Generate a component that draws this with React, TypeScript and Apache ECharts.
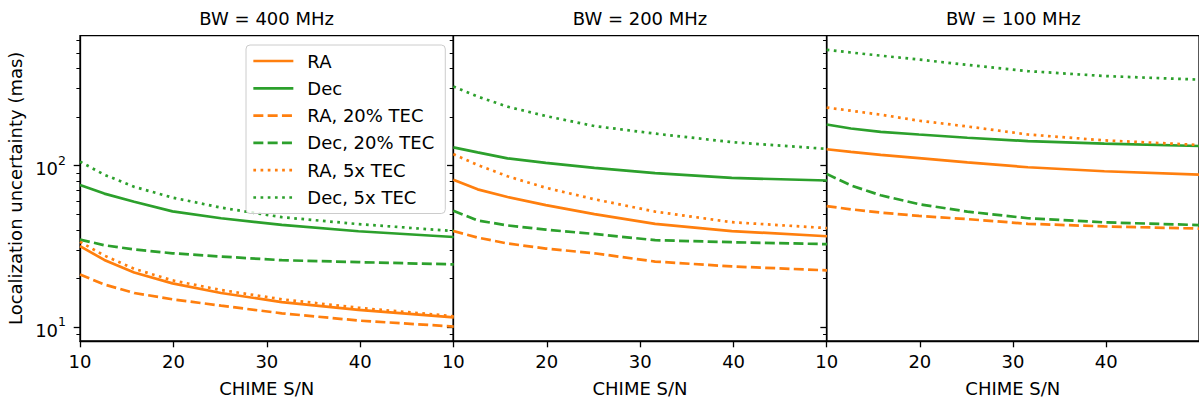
import React, { useEffect, useRef } from "react";
import * as echarts from "echarts";

const snr = [10, 12.6, 15.8, 19.9, 25.1, 31.6, 39.8, 50];
const panelTitles = ["BW = 400 MHz", "BW = 200 MHz", "BW = 100 MHz"];
const seriesNames = ["RA", "Dec", "RA, 20% TEC", "Dec, 20% TEC", "RA, 5x TEC", "Dec, 5x TEC"];

// BW = 400 MHz
const ra400 = [31.8, 26.1, 21.8, 18.7, 16.3, 14.3, 12.8, 11.5];
const dec400 = [75.9, 67.2, 59.8, 52.2, 47.3, 43.0, 39.3, 36.2];
const raTec20_400 = [21.2, 18.4, 16.3, 14.9, 13.6, 12.2, 11.0, 10.1];
const decTec20_400 = [34.9, 32.2, 30.3, 28.7, 27.4, 26.0, 25.3, 24.5];
const raTec5x_400 = [33.8, 27.8, 23.0, 19.5, 17.0, 14.9, 13.2, 11.7];
const decTec5x_400 = [106, 88, 74, 63.5, 55, 48, 43.5, 39.4];

// BW = 200 MHz
const ra200 = [82, 71.4, 64, 57, 50.2, 43.6, 39.4, 36.6];
const dec200 = [130, 121, 111, 104, 97, 90, 84, 81];
const raTec20_200 = [39.4, 35.9, 33, 30.7, 28.7, 25.5, 23.8, 22.5];
const decTec20_200 = [52.7, 45.8, 42.7, 40.2, 37.8, 34.6, 33.6, 32.7];
const raTec5x_200 = [118, 101, 86, 73, 62, 52, 44.7, 41.1];
const decTec5x_200 = [309, 268, 232, 203, 176, 158, 140, 127];

// BW = 100 MHz
const ra100 = [126.4, 121.7, 116.6, 111.4, 105, 97.8, 92.4, 88.1];
const dec100 = [180, 170, 162, 156, 149, 142, 137, 132.4];
const raTec20_100 = [56.2, 53.7, 51.3, 48.9, 46.7, 43.7, 42.1, 40.8];
const decTec20_100 = [89, 75.5, 65.6, 57.8, 52, 47.3, 44.6, 42.9];
const raTec5x_100 = [229, 219, 207, 190, 175, 156, 143.5, 134.4];
const decTec5x_100 = [522, 502, 480, 454, 421, 385, 359, 341];

const xTicks = [10, 20, 30, 40];
const yMajorTicks = [10, 100];
const yMinorTicks = [9, 20, 30, 40, 50, 60, 70, 80, 90, 200, 300, 400, 500, 600];

const panels = [
  [ra400, dec400, raTec20_400, decTec20_400, raTec5x_400, decTec5x_400],
  [ra200, dec200, raTec20_200, decTec20_200, raTec5x_200, decTec5x_200],
  [ra100, dec100, raTec20_100, decTec20_100, raTec5x_100, decTec5x_100],
];

const ORANGE = "#ff7f0e";
const GREEN = "#2ca02c";
const FONT = "DejaVu Sans";
const DASHED = [10, 4.3];
const DOTTED = [2.7, 4.5];
const styles = [
  { color: ORANGE, type: "solid" as any },
  { color: GREEN, type: "solid" as any },
  { color: ORANGE, type: DASHED },
  { color: GREEN, type: DASHED },
  { color: ORANGE, type: DOTTED },
  { color: GREEN, type: DOTTED },
];

const X0 = 80;
const PW = 373.33;
const TOP = 35.7;
const PH = 310;
const YMIN = 8.22;
const YMAX = 638;

export default function App() {
  const ref = useRef<HTMLDivElement>(null);
  useEffect(() => {
    if (!ref.current) return;
    const chart = echarts.init(ref.current, null, { renderer: "svg" });
    const grids: any[] = [];
    const xAxes: any[] = [];
    const yAxes: any[] = [];
    const series: any[] = [];
    panels.forEach((panel, i) => {
      grids.push({
        left: X0 + i * PW,
        top: TOP,
        width: PW,
        height: PH,
        show: true,
        borderColor: "#000",
        borderWidth: 1.3,
        backgroundColor: "transparent",
      });
      xAxes.push({
        type: "value",
        gridIndex: i,
        min: 10,
        max: 49.96,
        axisLine: { show: true, lineStyle: { color: "#000", width: 1.3 } },
        axisTick: { show: true, customValues: xTicks, length: 6.3, lineStyle: { color: "#000", width: 1.3 } },
        axisLabel: { show: true, customValues: xTicks, fontSize: 18, color: "#000", fontFamily: FONT, margin: 11 },
        splitLine: { show: false },
        name: "CHIME S/N",
        nameLocation: "middle",
        nameGap: 38,
        nameTextStyle: { fontSize: 18, color: "#000", fontFamily: FONT },
      });
      yAxes.push({
        type: "log",
        logBase: 10,
        gridIndex: i,
        position: "left",
        min: YMIN,
        max: YMAX,
        axisLine: { show: true, lineStyle: { color: "#000", width: 1.3 } },
        axisTick: { show: true, customValues: yMajorTicks, length: 6.3, lineStyle: { color: "#000", width: 1.3 } },
        axisLabel: {
          show: i === 0,
          customValues: yMajorTicks,
          margin: 14,
          formatter: (v: number) => `{b|10}{s|${Math.round(Math.log10(v))}}`,
          rich: {
            b: { fontSize: 18, color: "#000", fontFamily: FONT, lineHeight: 24, verticalAlign: "bottom" },
            s: { fontSize: 12.5, color: "#000", fontFamily: FONT, lineHeight: 24, verticalAlign: "top" },
          },
        },
        splitLine: { show: false },
        minorTick: { show: false },
        name: i === 0 ? "Localization uncertainty (mas)" : "",
        nameLocation: "middle",
        nameGap: 56,
        nameTextStyle: { fontSize: 18, color: "#000", fontFamily: FONT },
      });
      yAxes.push({
        type: "log",
        logBase: 10,
        gridIndex: i,
        position: "left",
        min: YMIN,
        max: YMAX,
        axisLine: { show: false },
        axisTick: { show: true, customValues: yMinorTicks, length: 3.6, lineStyle: { color: "#000", width: 1 } },
        axisLabel: { show: false },
        splitLine: { show: false },
      });
      panel.forEach((vals, k) => {
        series.push({
          type: "line",
          name: seriesNames[k],
          xAxisIndex: i,
          yAxisIndex: 2 * i,
          data: snr.map((x, j) => [x, vals[j]]),
          symbol: "none",
          showSymbol: false,
          smooth: false,
          lineStyle: { color: styles[k].color, width: 2.7, type: styles[k].type, cap: "butt" },
          itemStyle: { color: styles[k].color },
          emphasis: { disabled: true },
        });
      });
    });

    chart.setOption({
      animation: false,
      backgroundColor: "#fff",
      grid: grids,
      xAxis: xAxes,
      yAxis: yAxes,
      series,
      legend: {
        show: true,
        data: seriesNames,
        orient: "vertical",
        left: 246,
        top: 45,
        padding: [7, 11, 7, 6],
        itemWidth: 40,
        itemHeight: 14,
        itemGap: 9.3,
        selectedMode: false,
        backgroundColor: "rgba(255,255,255,0.8)",
        borderColor: "#cccccc",
        borderWidth: 1,
        borderRadius: 4,
        itemStyle: { color: "rgba(0,0,0,0)", borderWidth: 0, opacity: 0 },
        lineStyle: { width: 2.7 },
        textStyle: { fontSize: 18, color: "#000", fontFamily: FONT, lineHeight: 18, padding: [0, 0, 0, 9] },
      },
      graphic: panelTitles.map((t, i) => ({
        type: "text",
        x: X0 + i * PW + PW / 2,
        y: 18.5,
        style: {
          text: t,
          fontSize: 18,
          fontFamily: FONT,
          fill: "#000",
          textAlign: "center",
          textVerticalAlign: "middle",
        },
      })),
    });
    return () => chart.dispose();
  }, []);
  return (
    <div
      ref={ref}
      style={{ position: "absolute", left: 0, top: 0, width: 1199, height: 402, background: "#fff" }}
    />
  );
}
